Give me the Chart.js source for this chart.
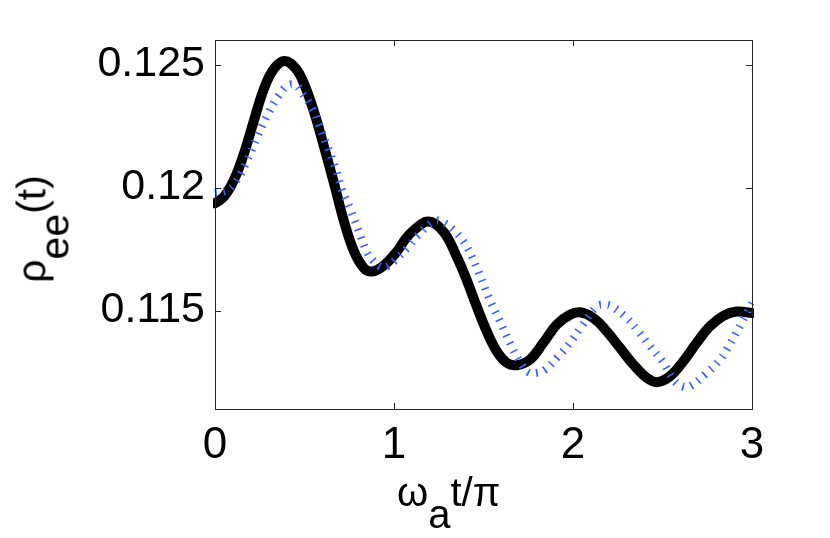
<!DOCTYPE html>
<html>
<head>
<meta charset="utf-8">
<script src="https://cdn.jsdelivr.net/npm/chart.js@4.4.1/dist/chart.umd.min.js"></script>
<style>
  body { margin: 0; background: #fff; }
  #wrap { position: relative; width: 830px; height: 538px; overflow: hidden; }
  #wrap canvas { position: absolute; left: 0; top: 0; }
  .ttl { position: absolute; font-family: "Liberation Sans", Arial, sans-serif; color: #000; white-space: nowrap; }
  .ttl .sub { position: relative; top: 0.55em; }
  #ylab { left: 32px; top: 229px; font-size: 41px; line-height: 41px; transform: translate(-50%, -50%) rotate(-90deg); }
  #xlab { left: 397px; top: 472px; font-size: 40px; line-height: 40px; }
</style>
</head>
<body>
<div id="wrap">
  <canvas id="c" width="830" height="538"></canvas>
  <div id="ylab" class="ttl">ρ<span class="sub">ee</span>(t)</div>
  <div id="xlab" class="ttl">ω<span class="sub">a</span>t/π</div>
</div>
<script>
// solid black curve
const blackX = [0, 0.050, 0.106, 0.162, 0.218, 0.274, 0.330, 0.389, 0.451, 0.497, 0.553, 0.609, 0.665, 0.721, 0.777, 0.832, 0.879, 0.944, 1.018, 1.063, 1.108, 1.192, 1.276, 1.350, 1.406, 1.462, 1.518, 1.574, 1.630, 1.686, 1.760, 1.834, 1.909, 1.983, 2.039, 2.114, 2.188, 2.263, 2.337, 2.412, 2.468, 2.542, 2.616, 2.691, 2.765, 2.840, 2.914, 3.0];
const blackY = [0.11936, 0.11963, 0.12031, 0.12139, 0.12274, 0.12403, 0.12484, 0.12515, 0.12484, 0.12423, 0.12308, 0.12166, 0.12017, 0.11862, 0.11740, 0.11673, 0.11659, 0.11684, 0.11742, 0.11790, 0.11825, 0.11862, 0.11821, 0.11720, 0.11625, 0.11517, 0.11416, 0.11335, 0.11288, 0.11278, 0.11301, 0.11369, 0.11443, 0.11483, 0.11493, 0.11470, 0.11416, 0.11348, 0.11281, 0.11227, 0.11209, 0.11233, 0.11294, 0.11369, 0.11436, 0.11479, 0.11496, 0.11490];

// dotted blue curve
const blueX = [0, 0.069, 0.106, 0.171, 0.236, 0.302, 0.358, 0.408, 0.451, 0.482, 0.544, 0.581, 0.628, 0.674, 0.711, 0.758, 0.804, 0.847, 0.879, 0.922, 0.963, 1.009, 1.080, 1.127, 1.220, 1.266, 1.341, 1.406, 1.471, 1.527, 1.592, 1.657, 1.713, 1.750, 1.797, 1.844, 1.918, 1.983, 2.048, 2.132, 2.173, 2.216, 2.300, 2.365, 2.430, 2.505, 2.561, 2.607, 2.654, 2.737, 2.821, 2.877, 2.942, 3.0];
const blueY = [0.11980, 0.11988, 0.12011, 0.12096, 0.12206, 0.12308, 0.12376, 0.12416, 0.12416, 0.12389, 0.12322, 0.12254, 0.12166, 0.12078, 0.11990, 0.11909, 0.11821, 0.11740, 0.11706, 0.11679, 0.11679, 0.11706, 0.11760, 0.11801, 0.11862, 0.11862, 0.11821, 0.11760, 0.11659, 0.11558, 0.11456, 0.11355, 0.11281, 0.11250, 0.11247, 0.11260, 0.11314, 0.11369, 0.11436, 0.11517, 0.11524, 0.11517, 0.11470, 0.11416, 0.11355, 0.11288, 0.11220, 0.11193, 0.11193, 0.11240, 0.11300, 0.11365, 0.11450, 0.11530];

const xTicks = [0, 1, 2, 3];
const xTickLabels = ['0', '1', '2', '3'];
const yTicks = [0.115, 0.12, 0.125];
const yTickLabels = ['0.115', '0.12', '0.125'];

const toPoints = (xs, ys) => xs.map((x, i) => ({ x: x, y: ys[i] }));

// MATLAB style box with ticks pointing inwards on all four sides
const boxTicks = {
  id: 'boxTicks',
  afterDatasetsDraw(chart) {
    const { ctx, chartArea: a, scales } = chart;
    const len = 6;
    ctx.save();
    ctx.strokeStyle = '#262626';
    ctx.lineWidth = 1;
    ctx.beginPath();
    scales.x.ticks.forEach(t => {
      const px = Math.round(scales.x.getPixelForValue(t.value)) + 0.5;
      ctx.moveTo(px, a.bottom); ctx.lineTo(px, a.bottom - len);
      ctx.moveTo(px, a.top); ctx.lineTo(px, a.top + len);
    });
    scales.y.ticks.forEach(t => {
      const py = Math.round(scales.y.getPixelForValue(t.value)) + 0.5;
      ctx.moveTo(a.left, py); ctx.lineTo(a.left + len, py);
      ctx.moveTo(a.right, py); ctx.lineTo(a.right - len, py);
    });
    ctx.stroke();
    ctx.strokeRect(a.left + 0.5, a.top + 0.5, a.right - a.left, a.bottom - a.top);
    ctx.restore();
  }
};

new Chart(document.getElementById('c'), {
  type: 'line',
  data: {
    datasets: [
      {
        data: toPoints(blueX, blueY),
        borderColor: '#3f5fff',
        borderWidth: 8,
        borderDash: [1.6, 7],
        borderCapStyle: 'butt',
        pointRadius: 0,
        tension: 0.4,
        fill: false,
        order: 0,
        clip: 2
      },
      {
        data: toPoints(blackX, blackY),
        borderColor: '#000',
        borderWidth: 10,
        borderCapStyle: 'round',
        borderJoinStyle: 'round',
        pointRadius: 0,
        tension: 0.4,
        fill: false,
        order: 1,
        clip: 2
      }
    ]
  },
  options: {
    responsive: false,
    animation: false,
    events: [],
    layout: { padding: { top: 40, right: 78, left: 0, bottom: 0 } },
    plugins: { legend: { display: false }, tooltip: { enabled: false } },
    scales: {
      x: {
        type: 'linear',
        min: 0,
        max: 3,
        afterBuildTicks: s => { s.ticks = xTicks.map(v => ({ value: v })); },
        afterFit: s => { s.height = 129; },
        grid: { display: false, drawTicks: false },
        border: { display: false },
        ticks: {
          padding: 10,
          color: '#000',
          font: { family: 'Liberation Sans', size: 44 },
          callback: (v) => xTickLabels[xTicks.indexOf(v)]
        }
      },
      y: {
        type: 'linear',
        min: 0.111,
        max: 0.126,
        afterBuildTicks: s => { s.ticks = yTicks.map(v => ({ value: v })); },
        afterFit: s => { s.width = 215; },
        grid: { display: false, drawTicks: false },
        border: { display: false },
        ticks: {
          padding: 10,
          color: '#000',
          font: { family: 'Liberation Sans', size: 43 },
          callback: (v) => yTickLabels[yTicks.indexOf(v)]
        }
      }
    }
  },
  plugins: [boxTicks]
});
</script>
</body>
</html>
